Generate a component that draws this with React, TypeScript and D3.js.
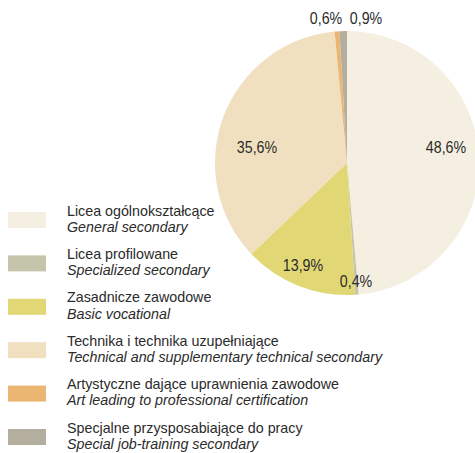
import React from "react";
import * as d3 from "d3";

const categoriesPL = [
  "Licea ogólnokształcące",
  "Licea profilowane",
  "Zasadnicze zawodowe",
  "Technika i technika uzupełniające",
  "Artystyczne dające uprawnienia zawodowe",
  "Specjalne przysposabiające do pracy",
];
const categoriesEN = [
  "General secondary",
  "Specialized secondary",
  "Basic vocational",
  "Technical and supplementary technical secondary",
  "Art leading to professional certification",
  "Special job-training secondary",
];
const values = [48.6, 0.4, 13.9, 35.6, 0.6, 0.9];
const colors = ["#F5EFE1", "#C5C5AC", "#E2D775", "#F0E0C0", "#EBB672", "#B3AE9D"];
// label offsets relative to pie centre (layout)
const labelOffsets: [number, number][] = [
  [99, -10],
  [9, 124],
  [-44, 108],
  [-90, -10],
  [-21, -139],
  [19, -139],
];

const W = 475;
const H = 453;
const cx = 347;
const cy = 163;
const R = 132;
const FONT = "'Liberation Sans', Arial, sans-serif";
const SX = 0.89;
const LSX = 0.985;

export default function App() {
  const pie = d3.pie<number>().sort(null).value((d) => d)(values);
  const arc = d3.arc<d3.PieArcDatum<number>>().innerRadius(0).outerRadius(R);
  const fmt = (v: number) => v.toFixed(1).replace(".", ",") + "%";
  const legendY = d3.scaleLinear().domain([0, 5]).range([212, 429]);

  return (
    <svg
      width={W}
      height={H}
      style={{ position: "absolute", left: 0, top: 0, background: "#fff" }}
      fontFamily={FONT}
    >
      <g transform={`translate(${cx},${cy})`}>
        {pie.map((p, i) => (
          <path key={i} d={arc(p) || ""} fill={colors[i]} />
        ))}
        {pie.map((p, i) => (
          <text
            key={"l" + i}
            transform={`translate(${labelOffsets[i][0]},${labelOffsets[i][1]}) scale(${SX},1)`}
            textAnchor="middle"
            fontSize={16}
            fill="#2b2b2b"
          >
            {fmt(values[i])}
          </text>
        ))}
      </g>
      {categoriesPL.map((c, i) => {
        const y = legendY(i);
        return (
          <g key={"g" + i}>
            <rect x={8} y={y} width={38} height={16} fill={colors[i]} />
            <text transform={`translate(67,${y + 3.5}) scale(${LSX},1)`} fontSize={14.5} fill="#2b2b2b">
              {c}
            </text>
            <text
              transform={`translate(67,${y + 19.8}) scale(${LSX},1)`}
              fontSize={14.5}
              fontStyle="italic"
              fill="#2b2b2b"
            >
              {categoriesEN[i]}
            </text>
          </g>
        );
      })}
    </svg>
  );
}
